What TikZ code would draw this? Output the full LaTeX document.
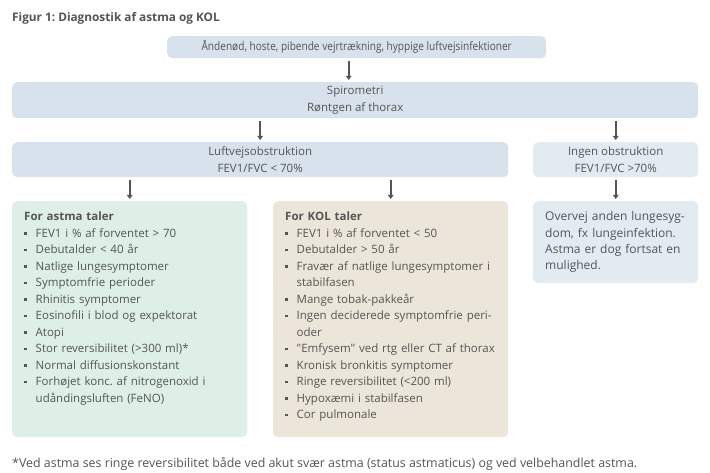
\documentclass[tikz,border=0pt]{standalone}
\usepackage{fontspec}
\setmainfont{Open Sans}[Ligatures=TeXOff]
\newfontfamily\condfont[FakeStretch=0.87,Ligatures=TeXOff]{Open Sans}
\usetikzlibrary{arrows.meta}
\frenchspacing
\definecolor{txt}{HTML}{555555}
\definecolor{boxblue}{HTML}{D8E2EC}
\definecolor{boxlight}{HTML}{E2EAF2}
\definecolor{boxgreen}{HTML}{DDEFE6}
\definecolor{boxbeige}{HTML}{EBE6D9}
\definecolor{arr}{HTML}{555555}
\newcommand{\bul}{\makebox[11.5pt][l]{\raisebox{2.6pt}{\rule{2.6pt}{2.6pt}}}}
\newcommand{\itm}[1]{\par\noindent\bul#1}
\newcommand{\itmc}[2]{\par\noindent\bul#1\par\noindent\hspace*{11.5pt}#2}
\begin{document}
\begin{tikzpicture}[x=1pt,y=-1pt,
  box/.style={rounded corners=5pt, inner sep=0pt, anchor=north west},
  lbl/.style={font=\fontsize{11.5}{17}\selectfont, text=txt, align=center, inner sep=0pt},
  list/.style={anchor=north west, inner sep=0pt, text width=230pt, text=txt, font=\fontsize{11.5}{16.5}\selectfont\frenchspacing, align=left},
  arrow/.style={draw=arr, line width=1.8pt, shorten <=2.5pt, shorten >=2pt, -{Triangle[length=4pt,width=5.5pt]}}
]
\useasboundingbox (0,0) rectangle (710,473);
\fill[white] (0,0) rectangle (710,473);

\node[anchor=base west, inner sep=0pt, text=txt, font=\bfseries\fontsize{11.8}{14}\selectfont] (title) at (12,22) {Figur 1: Diagnostik af astma og KOL};

\node[box, fill=boxblue, minimum width=379pt, minimum height=22pt] (top) at (167,36) {};
\node[lbl, font=\condfont\fontsize{11.6}{14}\selectfont] (toptext) at (top.center) {Åndenød, hoste, pibende vejrtrækning, hyppige luftvejsinfektioner};

\node[box, fill=boxblue, minimum width=686pt, minimum height=36pt] (spiro) at (12,82) {};
\node[lbl] (spirotext) at (spiro.center) {Spirometri\\Røntgen af thorax};

\node[box, fill=boxblue, minimum width=496pt, minimum height=35pt] (luft) at (12,142) {};
\node[lbl] (lufttext) at (luft.center) {Luftvejsobstruktion\\FEV1/FVC < 70\%};

\node[box, fill=boxlight, minimum width=165pt, minimum height=35pt] (ingen) at (533,142) {};
\node[lbl] (ingentext) at (ingen.center) {Ingen obstruktion\\FEV1/FVC >70\%};

\node[box, fill=boxgreen, minimum width=235pt, minimum height=236pt] (astma) at (12,201) {};
\node[box, fill=boxbeige, minimum width=235pt, minimum height=236pt] (kol) at (273,201) {};
\node[box, fill=boxlight, minimum width=165pt, minimum height=82pt] (overvej) at (533,201) {};

\node[list] (astmalist) at (24,212) {%
\noindent\textbf{For astma taler}
\itm{FEV1 i \% af forventet > 70}
\itm{Debutalder < 40 år}
\itm{Natlige lungesymptomer}
\itm{Symptomfrie perioder}
\itm{Rhinitis symptomer}
\itm{Eosinofili i blod og expektorat}
\itm{Atopi}
\itm{Stor reversibilitet (>300 ml)*}
\itm{Normal diffusionskonstant}
\itmc{Forhøjet konc. af nitrogenoxid i}{udåndingsluften (FeNO)}\par};

\node[list] (kollist) at (285,212) {%
\noindent\textbf{For KOL taler}
\itm{FEV1 i \% af forventet < 50}
\itm{Debutalder > 50 år}
\itmc{Fravær af natlige lungesymptomer i}{stabilfasen}
\itm{Mange tobak-pakkeår}
\itmc{Ingen deciderede symptomfrie peri-}{oder}
\itm{"Emfysem" ved rtg eller CT af thorax}
\itm{Kronisk bronkitis symptomer}
\itm{Ringe reversibilitet (<200 ml)}
\itm{Hypoxæmi i stabilfasen}
\itm{Cor pulmonale}\par};

\node[list, text width=200pt, font=\fontsize{12.0}{16.3}\selectfont\frenchspacing] (overvejtext) at (545,211.5) {Overvej anden lungesyg-\\dom, fx lungeinfektion.\\Astma er dog fortsat en\\mulighed.};

\node[anchor=base west, inner sep=0pt, text=txt, font=\fontsize{12.4}{14}\selectfont] (foot) at (12,467) {*Ved astma ses ringe reversibilitet både ved akut svær astma (status astmaticus) og ved velbehandlet astma.};

\draw[arrow] ([xshift=-8pt]top.south) -- ([xshift=-8pt]top.south |- spiro.north);
\draw[arrow] (luft.north |- spiro.south) -- (luft.north);
\draw[arrow] (ingen.north |- spiro.south) -- (ingen.north);
\draw[arrow] (astma.north |- luft.south) -- (astma.north);
\draw[arrow] (kol.north |- luft.south) -- (kol.north);
\draw[arrow] (ingen.south) -- (overvej.north);
\end{tikzpicture}
\end{document}
